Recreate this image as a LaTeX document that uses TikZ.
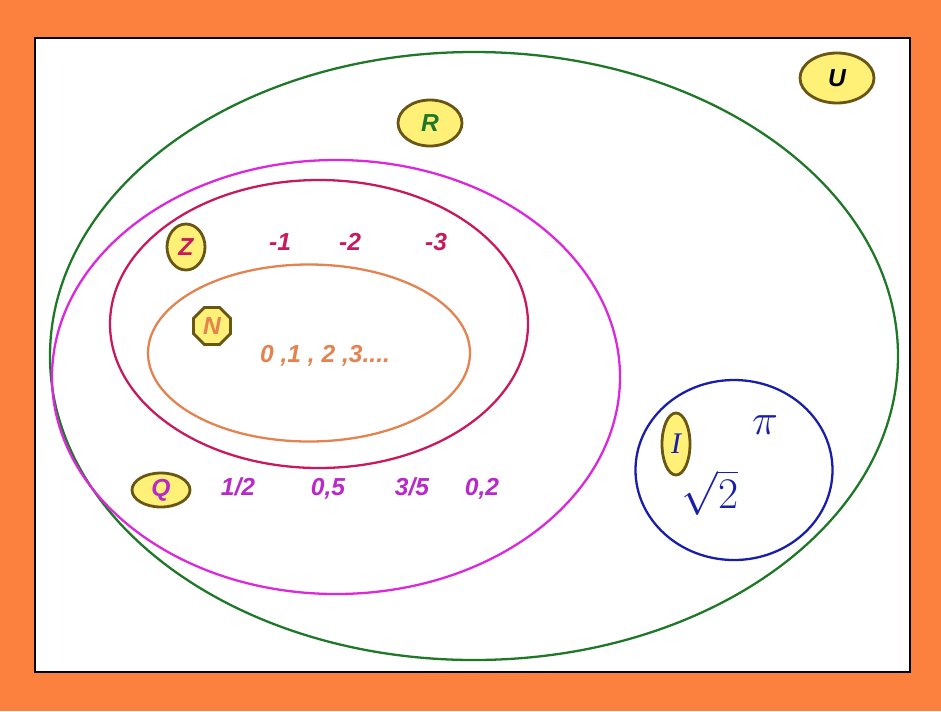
\documentclass[tikz,border=0pt]{standalone}
\usepackage{fontspec}
\setmainfont{Liberation Sans}
\newfontfamily\serifI{Liberation Serif}
\usetikzlibrary{shapes.geometric}
\definecolor{frame}{RGB}{252,128,62}
\definecolor{leaf}{RGB}{30,120,40}
\definecolor{pink}{RGB}{220,40,220}
\definecolor{berry}{RGB}{200,25,95}
\definecolor{peach}{RGB}{228,130,80}
\definecolor{navy}{RGB}{25,30,170}
\definecolor{lemon}{RGB}{255,240,120}
\definecolor{olive}{RGB}{105,85,20}
\definecolor{plum}{RGB}{185,40,200}
\tikzset{
  set/.style={ellipse,draw=#1,line width=1.3pt,inner sep=0pt},
  badge/.style={ellipse,fill=lemon,draw=olive,line width=1.6pt,inner sep=0pt,
    text=#1,font=\fontsize{14}{16}\selectfont\bfseries\itshape},
  elem/.style={text=#1,font=\fontsize{14}{16}\selectfont\bfseries\itshape,inner sep=1pt,
    text height=1.6ex,text depth=0.4ex},
}

\begin{document}
\begin{tikzpicture}
  % page and frame
  \fill[frame] (0,0) rectangle (18.82,-14.22);
  \node[draw=black,line width=1.4pt,fill=white,minimum width=17.5cm,minimum height=12.68cm,inner sep=0pt] (page) at (9.45,-7.10) {};
  \useasboundingbox (0,0) rectangle (18.82,-14.22);

  % the sets
  \node[set=leaf,minimum width=16.96cm,minimum height=12.16cm] (setR) at (9.48,-7.12) {};
  \node[set=pink,minimum width=11.36cm,minimum height=8.68cm] (setQ) at (6.72,-7.54) {};
  \node[set=berry,minimum width=8.36cm,minimum height=5.76cm] (setZ) at (6.38,-6.48) {};
  \node[set=peach,minimum width=6.44cm,minimum height=3.54cm] (setN) at (6.18,-7.06) {};
  \node[set=navy,minimum width=3.94cm,minimum height=3.60cm] (setI) at (14.68,-9.40) {};

  % name badges
  \node[badge=leaf,minimum width=1.28cm,minimum height=0.92cm] (labR) at (8.60,-2.46) {R};
  \node[badge=black,minimum width=1.48cm,minimum height=1.00cm] (labU) at (16.74,-1.56) {U};
  \node[badge=berry,minimum width=0.76cm,minimum height=0.92cm] (labZ) at (3.72,-4.94) {Z};
  \node[badge=peach,shape=regular polygon,regular polygon sides=8,minimum size=0.80cm] (labN) at (4.24,-6.52) {N};
  \node[badge=plum,minimum width=1.16cm,minimum height=0.68cm] (labQ) at (3.22,-9.80) {Q};
  \node[badge=navy,minimum width=0.56cm,minimum height=1.24cm,font=\fontsize{17}{19}\serifI\itshape] (labI) at (13.52,-8.88) {I};

  % elements
  \foreach \t/\x [count=\i] in {-1/5.60,-2/7.00,-3/8.72}
    \node[elem=berry] (z\i) at (\x,-4.90) {\t};
  \node[elem=peach] (nats) at (6.50,-7.14) {0 ,1 , 2 ,3....};
  \foreach \t/\x [count=\i] in {{1/2}/4.76,{0,5}/6.56,{3/5}/8.24,{0,2}/9.64}
    \node[elem=plum] (q\i) at (\x,-9.80) {\t};
  \node[text=navy,font=\fontsize{30}{32}\selectfont] (pi) at (15.30,-8.50) {$\pi$};
  \node[text=navy,font=\fontsize{24}{26}\selectfont] (root) at (14.20,-9.85) {$\sqrt{2}$};
\end{tikzpicture}
\end{document}
